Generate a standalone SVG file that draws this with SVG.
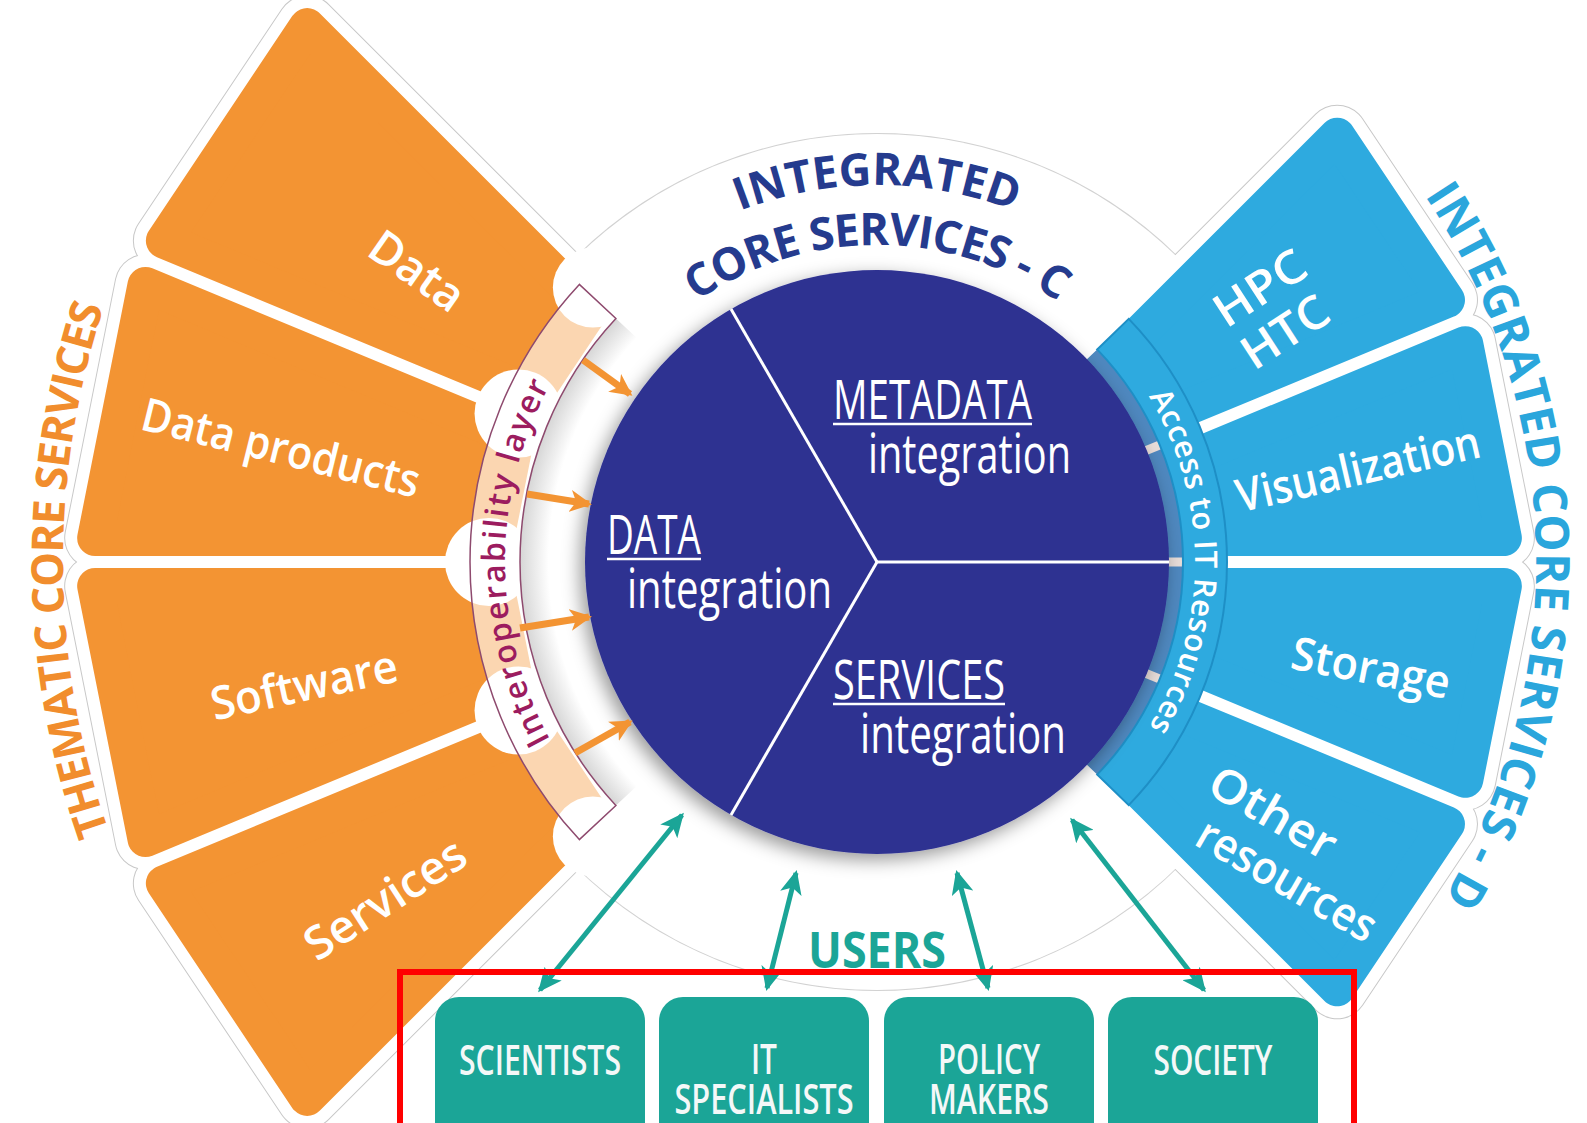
<svg xmlns="http://www.w3.org/2000/svg" width="1587" height="1123" viewBox="0 0 1587 1123">
<defs>
<style>
.hg{fill:none;stroke:#c8c8c8;stroke-width:62;stroke-linejoin:round}
.hw{fill:#fff;stroke:#fff;stroke-width:60;stroke-linejoin:round}
.or{fill:#f39433;stroke:#f39433;stroke-width:36;stroke-linejoin:round}
.bl{fill:#2eaadf;stroke:#2eaadf;stroke-width:36;stroke-linejoin:round}
.wl{font-family:'Open Sans','Noto Sans','Liberation Sans',sans-serif;font-weight:600;font-size:46px;fill:#fff;text-anchor:middle}
.ct{font-family:'Open Sans','Noto Sans','Liberation Sans',sans-serif;font-weight:400;font-size:54px;fill:#fff}
.ul{stroke:#fff;stroke-width:2.5}
.ut{font-family:'Open Sans','Noto Sans','Liberation Sans',sans-serif;font-weight:600;font-size:42px;fill:#f4f8f8;text-anchor:middle}
.box{fill:#1ba597}
.teal{stroke:#1ba597;stroke-width:5;fill:none;marker-start:url(#th);marker-end:url(#th)}
.orar{stroke:#f39433;stroke-width:7;fill:none;marker-end:url(#oh)}
.tt{font-family:'Open Sans','Noto Sans','Liberation Sans',sans-serif;font-weight:700}
</style>
<polygon id="pL" points="378,-50.72 771.5,-129 771.5,129 378,50.72"/>
<polygon id="pR" points="308,-36.79 619.5,-98.8 619.5,98.8 308,36.79"/>
<filter id="sh" x="-20%" y="-20%" width="140%" height="140%">
<feDropShadow dx="-5" dy="6" stdDeviation="9" flood-color="#000" flood-opacity="0.4"/>
</filter>
<radialGradient id="bs" gradientUnits="userSpaceOnUse" cx="877" cy="562" r="357">
<stop offset="0.92" stop-color="#777" stop-opacity="0"/>
<stop offset="1" stop-color="#777" stop-opacity="0.3"/>
</radialGradient>
<marker id="th" viewBox="0 0 24 22" refX="21" refY="11" markerWidth="24" markerHeight="22" markerUnits="userSpaceOnUse" orient="auto-start-reverse">
<path d="M0,0 L24,11 L0,22 L6,11 Z" fill="#1ba597"/>
</marker>
<marker id="oh" viewBox="0 0 22 22" refX="19" refY="11" markerWidth="22" markerHeight="22" markerUnits="userSpaceOnUse" orient="auto">
<path d="M0,0 L22,11 L0,22 L6,11 Z" fill="#f39433"/>
</marker>
<path id="arcInt" d="M 500,562 A 377 377 0 0 1 1254,562"/>
<path id="arcCore" d="M 560,562 A 317 317 0 0 1 1194,562"/>
<path id="arcIop" d="M 604.94,815.70 A 372 372 0 0 1 604.94,308.30"/>
<path id="arcAcc" d="M 1105.75,341.10 A 318 318 0 0 1 1105.75,782.90"/>
<path id="arcTh" d="M 172.05,969 A 814 814 0 0 1 172.05,155"/>
<path id="arcD" d="M 1206.5,-8.71 A 659 659 0 0 1 1206.5,1132.71"/>
</defs>

<rect width="1587" height="1123" fill="#fff"/>

<!-- background: disk outline + halos -->
<g id="background">
<circle cx="877" cy="562" r="428" fill="none" stroke="#d2d2d2" stroke-width="2"/>
<g class="hg">
<use href="#pL" transform="translate(877 562) rotate(213.75)"/>
<use href="#pL" transform="translate(877 562) rotate(191.25)"/>
<use href="#pL" transform="translate(877 562) rotate(168.75)"/>
<use href="#pL" transform="translate(877 562) rotate(146.25)"/>
<use href="#pR" transform="translate(877 562) rotate(-33.75)"/>
<use href="#pR" transform="translate(877 562) rotate(-11.25)"/>
<use href="#pR" transform="translate(877 562) rotate(11.25)"/>
<use href="#pR" transform="translate(877 562) rotate(33.75)"/>
</g>
<g class="hw">
<use href="#pL" transform="translate(877 562) rotate(213.75)"/>
<use href="#pL" transform="translate(877 562) rotate(191.25)"/>
<use href="#pL" transform="translate(877 562) rotate(168.75)"/>
<use href="#pL" transform="translate(877 562) rotate(146.25)"/>
<use href="#pR" transform="translate(877 562) rotate(-33.75)"/>
<use href="#pR" transform="translate(877 562) rotate(-11.25)"/>
<use href="#pR" transform="translate(877 562) rotate(11.25)"/>
<use href="#pR" transform="translate(877 562) rotate(33.75)"/>
</g>
<circle cx="877" cy="562" r="428" fill="#fff"/>
</g>

<!-- titles -->
<g id="title-thematic">
<text class="tt" font-size="44" fill="#f18d2d" letter-spacing="-1.3"><textPath href="#arcTh" startOffset="49%" text-anchor="middle">THEMATIC CORE SERVICES</textPath></text>
</g>
<g id="title-d">
<text class="tt" font-size="47" fill="#2aa6dc" letter-spacing="0.5"><textPath href="#arcD" startOffset="48.75%" text-anchor="middle">INTEGRATED CORE SERVICES - D</textPath></text>
</g>
<g id="title-c">
<text class="tt" font-size="45" fill="#253b8e"><textPath href="#arcInt" startOffset="50%" text-anchor="middle">INTEGRATED</textPath></text>
<text class="tt" font-size="45" fill="#253b8e" letter-spacing="-1"><textPath href="#arcCore" startOffset="50%" text-anchor="middle">CORE SERVICES - C</textPath></text>
</g>

<!-- thematic core services wedges -->
<g id="tcs-data">
<use href="#pL" class="or" transform="translate(877 562) rotate(213.75)"/>
<text class="wl" transform="translate(417 271) rotate(35)" y="16" textLength="105" lengthAdjust="spacingAndGlyphs">Data</text>
</g>
<g id="tcs-data-products">
<use href="#pL" class="or" transform="translate(877 562) rotate(191.25)"/>
<text class="wl" transform="translate(281 448) rotate(14)" y="16" textLength="285" lengthAdjust="spacingAndGlyphs">Data products</text>
</g>
<g id="tcs-software">
<use href="#pL" class="or" transform="translate(877 562) rotate(168.75)"/>
<text class="wl" transform="translate(304 685) rotate(-12)" y="16" textLength="190" lengthAdjust="spacingAndGlyphs">Software</text>
</g>
<g id="tcs-services">
<use href="#pL" class="or" transform="translate(877 562) rotate(146.25)"/>
<text class="wl" transform="translate(385 899) rotate(-33)" y="16" textLength="183" lengthAdjust="spacingAndGlyphs">Services</text>
</g>

<!-- white gaps where wedges meet the interoperability layer -->
<g id="gaps" fill="#fff">
<circle cx="518.53" cy="413.52" r="44"/>
<circle cx="489" cy="562" r="44"/>
<circle cx="518.53" cy="710.48" r="44"/>
<circle cx="592.86" cy="287.61" r="40"/>
<circle cx="592.86" cy="836.39" r="40"/>
</g>

<!-- ICS-D wedges -->
<g id="icsd-hpc">
<use href="#pR" class="bl" transform="translate(877 562) rotate(-33.75)"/>
<text class="wl" transform="translate(1260 288) rotate(-33)" y="16" textLength="101" lengthAdjust="spacingAndGlyphs">HPC</text>
<text class="wl" transform="translate(1285 332) rotate(-33)" y="16" textLength="95" lengthAdjust="spacingAndGlyphs">HTC</text>
</g>
<g id="icsd-visualization">
<use href="#pR" class="bl" transform="translate(877 562) rotate(-11.25)"/>
<text class="wl" transform="translate(1358 469) rotate(-13)" y="16" textLength="249" lengthAdjust="spacingAndGlyphs">Visualization</text>
</g>
<g id="icsd-storage">
<use href="#pR" class="bl" transform="translate(877 562) rotate(11.25)"/>
<text class="wl" transform="translate(1371 668) rotate(11)" y="16" textLength="161" lengthAdjust="spacingAndGlyphs">Storage</text>
</g>
<g id="icsd-other">
<use href="#pR" class="bl" transform="translate(877 562) rotate(33.75)"/>
<text class="wl" transform="translate(1273 813) rotate(30)" y="16" textLength="140" lengthAdjust="spacingAndGlyphs">Other</text>
<text class="wl" transform="translate(1287 880) rotate(30)" y="16" textLength="200" lengthAdjust="spacingAndGlyphs">resources</text>
</g>

<!-- interoperability layer -->
<g id="interoperability-layer">
<path d="M 615.91,805.47 A 357 357 0 0 1 615.91,318.53 L 639.31,340.35 A 325 325 0 0 0 639.31,783.65 Z" fill="url(#bs)"/>
<path d="M 579.34,839.57 A 407 407 0 0 1 579.34,284.43 L 615.91,318.53 A 357 357 0 0 0 615.91,805.47 Z" fill="#fff" fill-opacity="0.62" stroke="#8e4a6e" stroke-width="1.5"/>
<text font-family="'Open Sans','Noto Sans','Liberation Sans',sans-serif" font-weight="600" font-size="32" fill="#9c1c5f" letter-spacing="2"><textPath href="#arcIop" startOffset="50%" text-anchor="middle">Interoperability layer</textPath></text>
</g>

<!-- access to IT resources -->
<g id="it-access">
<path d="M 1097.12,349.43 A 306 306 0 0 1 1097.12,774.57 L 1085.61,763.45 A 290 290 0 0 0 1085.61,360.55 Z" fill="#4f88bf"/>
<g stroke="#e8ddd9" stroke-width="9">
<line x1="1144" y1="451.4" x2="1160" y2="444.8"/>
<line x1="1165" y1="562" x2="1183" y2="562"/>
<line x1="1144" y1="672.6" x2="1160" y2="679.2"/>
</g>
<path d="M 1128.77,318.87 A 350 350 0 0 1 1128.77,805.13 L 1097.12,774.57 A 306 306 0 0 0 1097.12,349.43 Z" fill="#2eaadf" stroke="#1e8fc6" stroke-width="2"/>
<text font-family="'Open Sans','Noto Sans','Liberation Sans',sans-serif" font-weight="600" font-size="31" fill="#fff" letter-spacing="0.6"><textPath href="#arcAcc" startOffset="50%" text-anchor="middle">Access to IT Resources</textPath></text>
</g>

<!-- core circle -->
<g id="core">
<circle cx="877" cy="562" r="292" fill="#2e3191" filter="url(#sh)"/>
<g stroke="#fff" stroke-width="3">
<line x1="877" y1="562" x2="731" y2="309"/>
<line x1="877" y1="562" x2="731" y2="815"/>
<line x1="877" y1="562" x2="1169" y2="562"/>
</g>
</g>
<g id="metadata-integration">
<text class="ct" x="833" y="419" textLength="199" lengthAdjust="spacingAndGlyphs">METADATA</text>
<line class="ul" x1="833" y1="424" x2="1032" y2="424"/>
<text class="ct" x="868" y="473" textLength="203" lengthAdjust="spacingAndGlyphs">integration</text>
</g>
<g id="data-integration">
<text class="ct" x="607" y="554" textLength="94" lengthAdjust="spacingAndGlyphs">DATA</text>
<line class="ul" x1="607" y1="559" x2="701" y2="559"/>
<text class="ct" x="627" y="608" textLength="205" lengthAdjust="spacingAndGlyphs">integration</text>
</g>
<g id="services-integration">
<text class="ct" x="833" y="699" textLength="172" lengthAdjust="spacingAndGlyphs">SERVICES</text>
<line class="ul" x1="833" y1="704" x2="1005" y2="704"/>
<text class="ct" x="860" y="753" textLength="206" lengthAdjust="spacingAndGlyphs">integration</text>
</g>

<!-- connectors -->
<g id="connectors">
<line class="orar" x1="583" y1="360" x2="630" y2="394"/>
<line class="orar" x1="527" y1="494" x2="589" y2="504"/>
<line class="orar" x1="520" y1="628" x2="589" y2="617"/>
<line class="orar" x1="575" y1="753" x2="630" y2="722"/>
<line class="teal" x1="540" y1="990" x2="682" y2="815"/>
<line class="teal" x1="767" y1="988" x2="796" y2="873"/>
<line class="teal" x1="988" y1="988" x2="957" y2="873"/>
<line class="teal" x1="1204" y1="990" x2="1072" y2="820"/>
</g>

<!-- users -->
<g id="users-label">
<text class="tt" x="877" y="968" font-size="50" fill="#1ba597" text-anchor="middle" textLength="138" lengthAdjust="spacingAndGlyphs">USERS</text>
</g>
<g id="user-scientists">
<rect class="box" x="435" y="997" width="210" height="170" rx="24"/>
<text class="ut" x="540" y="1075" textLength="162" lengthAdjust="spacingAndGlyphs">SCIENTISTS</text>
</g>
<g id="user-it-specialists">
<rect class="box" x="659" y="997" width="210" height="170" rx="24"/>
<text class="ut" x="764" y="1074" textLength="26" lengthAdjust="spacingAndGlyphs">IT</text>
<text class="ut" x="764" y="1114" textLength="179" lengthAdjust="spacingAndGlyphs">SPECIALISTS</text>
</g>
<g id="user-policy-makers">
<rect class="box" x="884" y="997" width="210" height="170" rx="24"/>
<text class="ut" x="989" y="1074" textLength="102" lengthAdjust="spacingAndGlyphs">POLICY</text>
<text class="ut" x="989" y="1114" textLength="120" lengthAdjust="spacingAndGlyphs">MAKERS</text>
</g>
<g id="user-society">
<rect class="box" x="1108" y="997" width="210" height="170" rx="24"/>
<text class="ut" x="1213" y="1075" textLength="119" lengthAdjust="spacingAndGlyphs">SOCIETY</text>
</g>
<rect id="highlight" x="400" y="972" width="954" height="220" fill="none" stroke="#ff0000" stroke-width="6"/>
</svg>
